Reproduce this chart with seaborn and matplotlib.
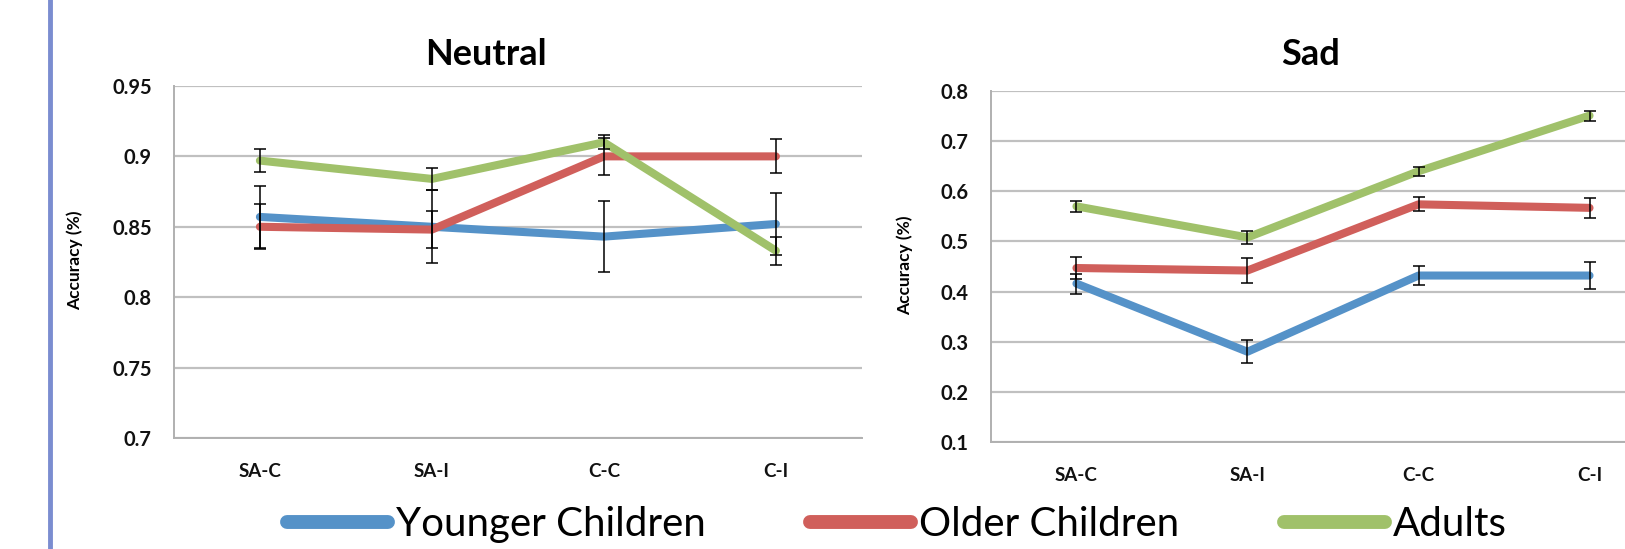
import matplotlib
matplotlib.use("Agg")
import matplotlib.pyplot as plt
import numpy as np
import pandas as pd
import seaborn as sns
from matplotlib.lines import Line2D

conditions = ["SA-C", "SA-I", "C-C", "C-I"]
groups = ["Younger Children", "Older Children", "Adults"]
group_colors = {"Younger Children": "#5592c8",
                "Older Children": "#d05f5b",
                "Adults": "#a0c16a"}

# Neutral panel
neutral_younger = [0.857, 0.850, 0.843, 0.852]
neutral_older = [0.850, 0.848, 0.900, 0.900]
neutral_adults = [0.897, 0.884, 0.910, 0.833]
neutral_younger_err = [0.022, 0.026, 0.025, 0.022]
neutral_older_err = [0.016, 0.013, 0.013, 0.012]
neutral_adults_err = [0.008, 0.008, 0.005, 0.010]
neutral_ticks = [0.7, 0.75, 0.8, 0.85, 0.9, 0.95]
neutral_ticklabels = ["0.7", "0.75", "0.8", "0.85", "0.9", "0.95"]

# Sad panel
sad_younger = [0.416, 0.280, 0.432, 0.432]
sad_older = [0.447, 0.442, 0.574, 0.567]
sad_adults = [0.570, 0.508, 0.640, 0.751]
sad_younger_err = [0.020, 0.023, 0.019, 0.027]
sad_older_err = [0.022, 0.024, 0.014, 0.020]
sad_adults_err = [0.011, 0.013, 0.009, 0.010]
sad_ticks = [0.1, 0.2, 0.3, 0.4, 0.5, 0.6, 0.7, 0.8]
sad_ticklabels = ["0.1", "0.2", "0.3", "0.4", "0.5", "0.6", "0.7", "0.8"]


def make_df(values, errs):
    rows = []
    for g, v, e in zip(groups, values, errs):
        for c, vv, ee in zip(conditions, v, e):
            rows.append({"condition": c, "group": g, "accuracy": vv, "err": ee})
    return pd.DataFrame(rows)


df_neutral = make_df([neutral_younger, neutral_older, neutral_adults],
                     [neutral_younger_err, neutral_older_err, neutral_adults_err])
df_sad = make_df([sad_younger, sad_older, sad_adults],
                 [sad_younger_err, sad_older_err, sad_adults_err])

plt.rcParams["font.family"] = ["Lato", "DejaVu Sans"]


def draw_panel(ax, df, title, ticks, ticklabels, title_x, title_pad):
    sns.lineplot(data=df, x="condition", y="accuracy", hue="group", hue_order=groups,
                 palette=group_colors, sort=False, errorbar=None, linewidth=5.8,
                 solid_capstyle="round", legend=False, ax=ax)
    for g in groups:
        sub = df[df["group"] == g]
        ax.errorbar(np.arange(len(sub)), sub["accuracy"], yerr=sub["err"], fmt="none",
                    ecolor="black", elinewidth=1.1, capsize=4, capthick=1.1, zorder=5)
    ax.set_xlim(-0.5, len(conditions) - 0.5)
    ax.set_ylim(ticks[0], ticks[-1])
    ax.set_yticks(ticks)
    ax.set_yticklabels(ticklabels)
    ax.yaxis.grid(True, color="#c0c0c0", linewidth=1.6)
    ax.set_axisbelow(True)
    for s in ["top", "right"]:
        ax.spines[s].set_visible(False)
    for s in ["left", "bottom"]:
        ax.spines[s].set_color("#b0b0b0")
        ax.spines[s].set_linewidth(1.4)
    ax.tick_params(axis="both", length=0, colors="#111111")
    ax.tick_params(axis="y", pad=16, labelsize=14.5)
    ax.tick_params(axis="x", pad=18, labelsize=13.5)
    for lab in ax.get_xticklabels() + ax.get_yticklabels():
        lab.set_fontweight("bold")
    ax.set_xlabel("")
    ax.set_ylabel("Accuracy (%)", fontsize=12.5, fontweight="bold")
    ax.set_title(title, fontsize=26, fontweight="bold", x=title_x, pad=title_pad)


fig = plt.figure(figsize=(16.25, 5.49), dpi=100)
ax1 = fig.add_axes([0.107, 0.2022, 0.4234, 0.6412])
ax2 = fig.add_axes([0.6098, 0.1949, 0.421, 0.6393])

draw_panel(ax1, df_neutral, "Neutral", neutral_ticks, neutral_ticklabels, 0.453, 15)
draw_panel(ax2, df_sad, "Sad", sad_ticks, sad_ticklabels, 0.468, 19)
ax1.yaxis.set_label_coords(-0.132, 0.505)
ax2.yaxis.set_label_coords(-0.114, 0.504)

# slide border on the left
fig.add_artist(Line2D([0.0308, 0.0308], [0, 1], color="#7b8dd0", linewidth=3.5))

handles = [Line2D([0], [0], color=group_colors[g], linewidth=10, solid_capstyle="round")
           for g in groups]
fig.legend(handles, groups, loc="center", bbox_to_anchor=(0.552, 0.045), ncol=3,
           frameon=False, fontsize=29, handlelength=2.5, handletextpad=0.2,
           columnspacing=2.6, borderpad=0.1)

plt.savefig("out.png", dpi=100)
